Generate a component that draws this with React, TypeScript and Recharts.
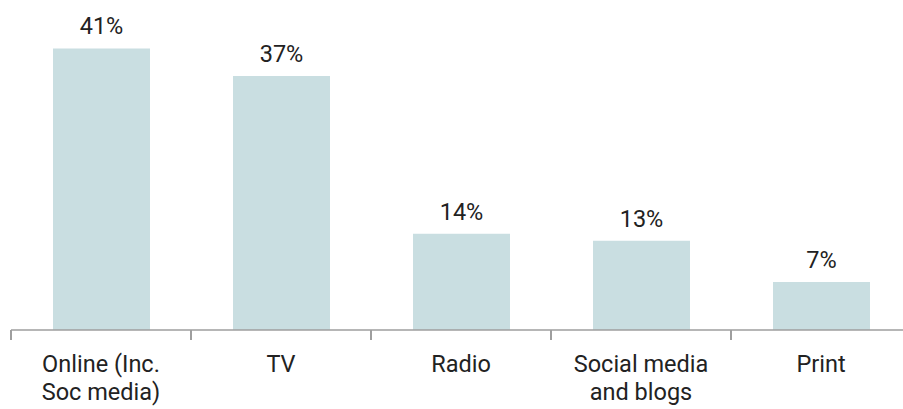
import React from "react";
import { BarChart, Bar, XAxis, YAxis, LabelList } from "recharts";

const categories = ["Online (Inc. Soc media)", "TV", "Radio", "Social media and blogs", "Print"];
const categoryLines = [["Online (Inc.", "Soc media)"], ["TV"], ["Radio"], ["Social media", "and blogs"], ["Print"]];
const shares = [41, 37, 14, 13, 7];
const boundaryTicks = [0, 1, 2, 3, 4, 5];

const data = categories.map((c, i) => ({ category: c, share: shares[i], idx: i + 0.5 }));

const FONT = "Roboto, 'Noto Sans', sans-serif";
const TEXT = "#222222";
const AXIS = "#9e9e9e";

const CategoryTick = (props: any) => {
  const { x, y, payload } = props;
  const i = categories.indexOf(payload.value);
  const lines = categoryLines[i] || [String(payload.value)];
  return (
    <text x={x} y={y} textAnchor="middle" fontFamily={FONT} fontSize={23.5} fontWeight={400} fill={TEXT}>
      {lines.map((l, k) => (
        <tspan key={k} x={x} dy={k === 0 ? 33 : 28}>
          {l}
        </tspan>
      ))}
    </text>
  );
};

export default function App() {
  return (
    <div style={{ position: "absolute", top: 0, left: 0, width: 903, height: 409, overflow: "hidden", background: "#fff" }}>
      <BarChart
        width={912}
        height={409}
        data={data}
        margin={{ top: 21, right: 1, bottom: 0, left: 11 }}
      >
        <XAxis
          xAxisId="a_grid"
          dataKey="idx"
          type="number"
          domain={[0, 5]}
          ticks={boundaryTicks}
          allowDataOverflow
          interval={0}
          height={1}
          tickSize={10}
          tickLine={{ stroke: AXIS, strokeWidth: 2 }}
          axisLine={{ stroke: AXIS, strokeWidth: 1.5 }}
          tickFormatter={() => ""}
        />
        <XAxis
          xAxisId="b_cat"
          dataKey="category"
          height={78}
          axisLine={false}
          tickLine={false}
          interval={0}
          tick={<CategoryTick />}
        />
        <YAxis hide domain={[0, 45]} />
        <Bar xAxisId="b_cat" dataKey="share" fill="#c9dee1" barSize={97} isAnimationActive={false}>
          <LabelList
            dataKey="share"
            position="top"
            offset={14}
            formatter={(v: any) => `${v}%`}
            style={{ fontFamily: FONT, fontSize: 23.5, fontWeight: 400, fill: TEXT }}
          />
        </Bar>
      </BarChart>
    </div>
  );
}
